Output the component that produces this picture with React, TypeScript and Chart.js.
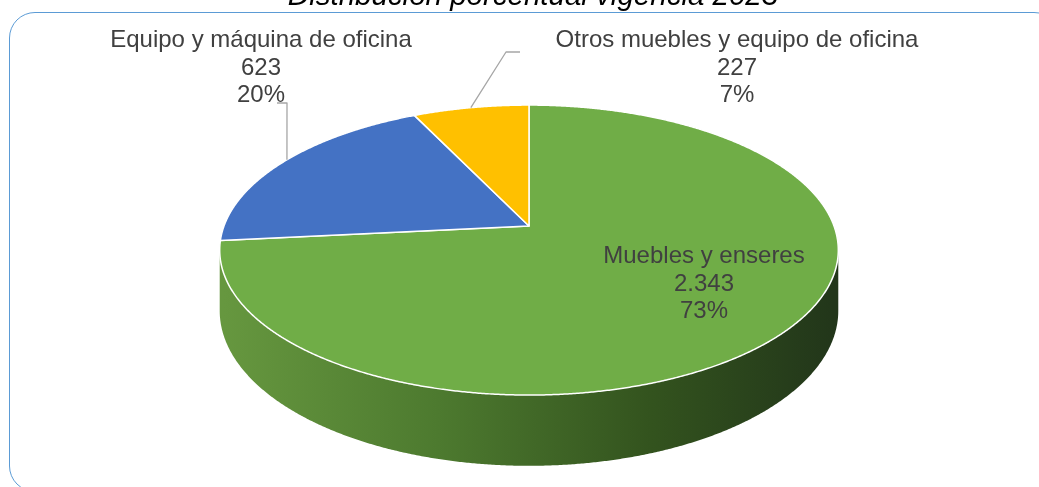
import { useEffect, useRef } from "react";
import { Chart, registerables } from "chart.js";

Chart.register(...registerables);

// ---- data ----
const categories = [
  "Muebles y enseres",
  "Equipo y máquina de oficina",
  "Otros muebles y equipo de oficina",
];
const values = [2343, 623, 227];
const sliceColors = ["#70AD47", "#4472C4", "#FFC000"];
const sideStops = [
  ["#66973f", "#4d7a2f", "#33531e", "#22361a"],
  ["#3a62a8", "#2f5190", "#243f70", "#1a2e52"],
  ["#d9a300", "#b88a00", "#8f6b00", "#664c00"],
];
const titleText = "Distribución porcentual vigencia 2023";

// ---- layout (page pixels) ----
const OFFSET_Y = 21; // canvas is shifted up so the title is clipped like the reference
const GEOM = { cx: 529, cy: 226, rx: 305, a: 141, p: 0.166, depth: 59 };
const LABEL_POS = [
  { x: 704, y: 263 },
  { x: 261, y: 47 },
  { x: 737, y: 47 },
];
const LEADERS: Record<number, { pts: number[][]; vertical: boolean }> = {
  1: {
    pts: [
      [277, 103],
      [287, 103],
    ],
    vertical: true,
  },
  2: {
    pts: [
      [520, 52],
      [506, 52],
    ],
    vertical: false,
  },
};
const LINE_GAP = 27.5;
const FONT = "'Liberation Sans', Arial, sans-serif";

function fmt(n: number) {
  return String(n).replace(/\B(?=(\d{3})+(?!\d))/g, ".");
}

function proj(ang: number, f: number) {
  const g = GEOM;
  const u = Math.cos(ang) * f;
  const w = -Math.sin(ang) * f;
  const s = 1 / (1 + g.p * w);
  return { x: g.cx + g.rx * u * s, y: g.cy + OFFSET_Y - g.a * w * s, s };
}

const pie3d = {
  id: "pie3d",
  beforeDatasetsDraw(chart: any) {
    const ctx: CanvasRenderingContext2D = chart.ctx;
    const meta = chart.getDatasetMeta(0);
    const ds = chart.data.datasets[0];
    const total = (ds.data as number[]).reduce((a, b) => a + b, 0);
    const g = GEOM;
    const sil = Math.asin(g.p);
    const frontS = sil;
    const frontE = Math.PI - sil;
    const step = 0.005;

    ctx.save();
    // side walls
    meta.data.forEach((el: any, i: number) => {
      const s = Math.max(el.startAngle, frontS);
      const e = Math.min(el.endAngle, frontE);
      if (e <= s) return;
      const grad = ctx.createLinearGradient(g.cx - g.rx, 0, g.cx + g.rx, 0);
      const st = sideStops[i];
      grad.addColorStop(0, st[0]);
      grad.addColorStop(0.35, st[1]);
      grad.addColorStop(0.7, st[2]);
      grad.addColorStop(1, st[3]);
      ctx.beginPath();
      const tops: { x: number; y: number; s: number }[] = [];
      for (let a = s; a < e; a += step) tops.push(proj(a, 1));
      tops.push(proj(e, 1));
      tops.forEach((p, k) => (k === 0 ? ctx.moveTo(p.x, p.y) : ctx.lineTo(p.x, p.y)));
      for (let k = tops.length - 1; k >= 0; k--) {
        const p = tops[k];
        ctx.lineTo(p.x, p.y + g.depth * p.s);
      }
      ctx.closePath();
      ctx.fillStyle = grad;
      ctx.fill();
    });

    // top faces
    meta.data.forEach((el: any, i: number) => {
      const c = proj(0, 0);
      ctx.beginPath();
      ctx.moveTo(c.x, c.y);
      for (let a = el.startAngle; a < el.endAngle; a += step) {
        const p = proj(a, 1);
        ctx.lineTo(p.x, p.y);
      }
      const pe = proj(el.endAngle, 1);
      ctx.lineTo(pe.x, pe.y);
      ctx.closePath();
      ctx.fillStyle = ds.backgroundColor[i];
      ctx.fill();
      ctx.lineWidth = 1.5;
      ctx.lineJoin = "round";
      ctx.strokeStyle = "#ffffff";
      ctx.stroke();
    });

    // leader lines
    ctx.strokeStyle = "#a6a6a6";
    ctx.lineWidth = 1.3;
    meta.data.forEach((el: any, i: number) => {
      const L = LEADERS[i];
      if (!L) return;
      const pts = L.pts;
      let edge = proj((el.startAngle + el.endAngle) / 2, 1);
      if (L.vertical) {
        const ex = pts[pts.length - 1][0];
        let best = edge;
        let bd = Infinity;
        for (let a = el.startAngle; a <= el.endAngle; a += 0.002) {
          const p = proj(a, 1);
          if (Math.sin(a) > 0) continue;
          const d = Math.abs(p.x - ex);
          if (d < bd) {
            bd = d;
            best = p;
          }
        }
        edge = best;
      }
      ctx.beginPath();
      ctx.moveTo(pts[0][0], pts[0][1] + OFFSET_Y);
      for (let k = 1; k < pts.length; k++) ctx.lineTo(pts[k][0], pts[k][1] + OFFSET_Y);
      ctx.lineTo(edge.x, edge.y);
      ctx.stroke();
    });

    // labels
    ctx.fillStyle = "#404040";
    ctx.font = `24px ${FONT}`;
    ctx.textAlign = "center";
    ctx.textBaseline = "alphabetic";
    meta.data.forEach((_el: any, i: number) => {
      const v = ds.data[i] as number;
      const lines = [
        chart.data.labels[i] as string,
        fmt(v),
        Math.round((v / total) * 100) + "%",
      ];
      const pos = LABEL_POS[i];
      lines.forEach((t, k) => ctx.fillText(t, pos.x, pos.y + OFFSET_Y + k * LINE_GAP));
    });
    ctx.restore();
    return false;
  },
};

export default function App() {
  const ref = useRef<HTMLCanvasElement>(null);
  useEffect(() => {
    if (!ref.current) return;
    const chart = new Chart(ref.current, {
      type: "pie",
      data: {
        labels: categories,
        datasets: [
          {
            data: values,
            backgroundColor: sliceColors,
            borderColor: "#ffffff",
            borderWidth: 1.5,
          },
        ],
      },
      options: {
        animation: false,
        responsive: false,
        devicePixelRatio: 1,
        layout: { padding: { left: 27, right: 0, top: 0, bottom: 0 } },
        plugins: {
          legend: { display: false },
          tooltip: { enabled: false },
          title: {
            display: true,
            text: titleText,
            color: "#000000",
            font: { family: FONT, size: 29.5, style: "italic", weight: "normal" },
            padding: { top: 0, bottom: 0 },
          },
        },
      },
      plugins: [pie3d as any],
    });
    return () => chart.destroy();
  }, []);

  return (
    <>
      <div
        style={{
          position: "fixed",
          left: 9,
          top: 12,
          width: 1051,
          height: 480,
          border: "1.5px solid #5B9BD5",
          borderRadius: 26,
          boxSizing: "border-box",
        }}
      />
      <div style={{ position: "fixed", left: 0, top: -OFFSET_Y, width: 1039, height: 508 }}>
        <canvas ref={ref} width={1039} height={508} style={{ display: "block" }} />
      </div>
    </>
  );
}
